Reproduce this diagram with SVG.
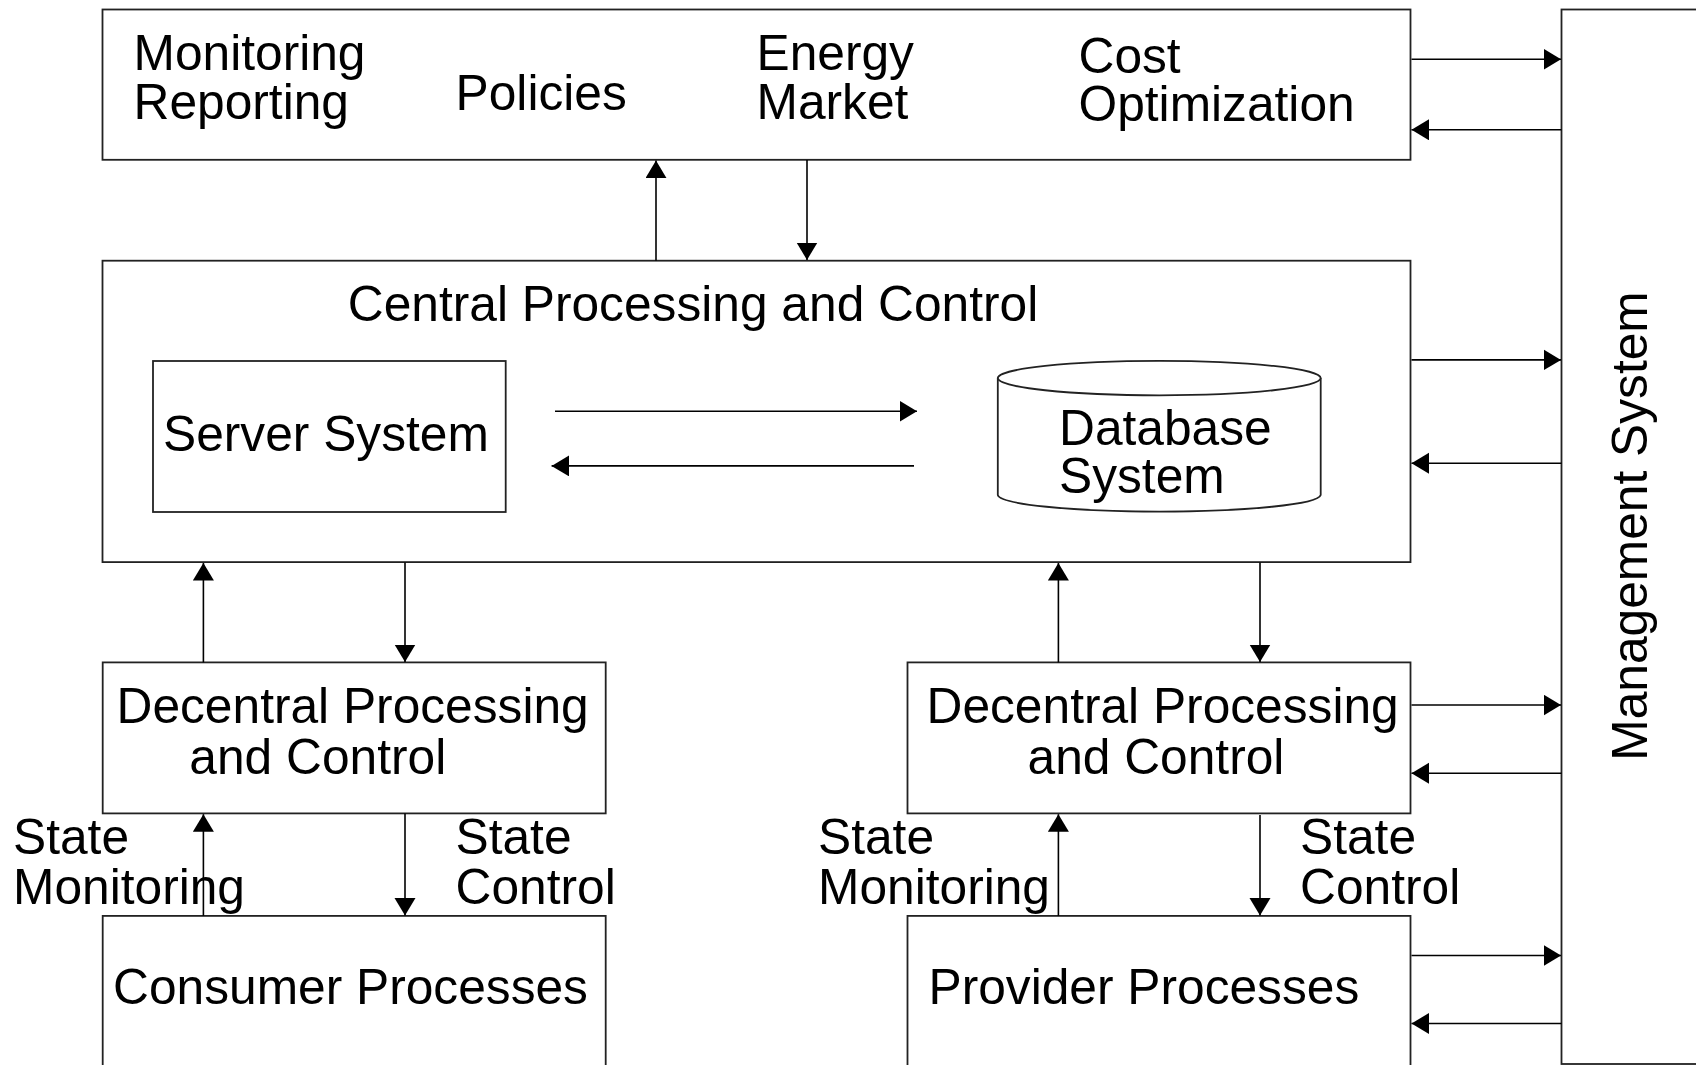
<svg xmlns="http://www.w3.org/2000/svg" width="1696" height="1065" viewBox="0 0 1696 1065">
<style>
.box{fill:#fff;stroke:#222;stroke-width:1.8}
.t{font-family:"Liberation Sans",Arial,sans-serif;font-size:49.7px;fill:#000}
.c{stroke:#000;stroke-width:1.6;fill:none;marker-end:url(#ah)}
</style>
<defs>
<marker id="ah" markerUnits="userSpaceOnUse" markerWidth="18" markerHeight="22" refX="17.5" refY="10.5" orient="auto">
<path d="M0,0 L17.5,10.5 L0,21 z" fill="#000"/>
</marker>
</defs>
<rect width="1696" height="1065" fill="#fff"/>
<g id="management">
<rect class="box" x="1561.5" y="9.5" width="200" height="1054.5"/>
<text class="t" transform="translate(1647,526) rotate(-90)" text-anchor="middle">Management System</text>
</g>
<g id="top">
<rect class="box" x="102.5" y="9.5" width="1308" height="150.3"/>
<text class="t" x="133.5" y="69.9">Monitoring</text>
<text class="t" x="133.5" y="118.8">Reporting</text>
<text class="t" x="455.6" y="109.5">Policies</text>
<text class="t" x="756.5" y="69.9">Energy</text>
<text class="t" x="756.5" y="118.8">Market</text>
<text class="t" x="1078.5" y="73.3">Cost</text>
<text class="t" x="1078.5" y="120.5">Optimization</text>
</g>
<g id="central">
<rect class="box" x="102.5" y="260.7" width="1308" height="301.4"/>
<text class="t" x="347.8" y="321">Central Processing and Control</text>
</g>
<g id="server">
<rect class="box" x="153" y="361" width="352.7" height="151"/>
<text class="t" x="163" y="451">Server System</text>
</g>
<g id="database">
<path class="box" d="M997.8,378.1 L997.8,495 A161.5,17 0 0 0 1320.7,495 L1320.7,378.1" stroke-width="1.3"/>
<ellipse class="box" cx="1159.25" cy="378.1" rx="161.45" ry="17.2" stroke-width="1.3"/>
<text class="t" x="1059" y="445.2">Database</text>
<text class="t" x="1059" y="493">System</text>
</g>
<g id="decentral-left">
<rect class="box" x="102.7" y="662.4" width="503" height="151"/>
<text class="t" x="116.5" y="722.8">Decentral Processing</text>
<text class="t" x="189.3" y="774">and Control</text>
</g>
<g id="decentral-right">
<rect class="box" x="907.5" y="662.4" width="503" height="151"/>
<text class="t" x="926.5" y="722.8">Decentral Processing</text>
<text class="t" x="1027.5" y="774">and Control</text>
</g>
<g id="consumer">
<rect class="box" x="102.7" y="915.9" width="503" height="200"/>
<text class="t" x="113" y="1004.2">Consumer Processes</text>
</g>
<g id="provider">
<rect class="box" x="907.5" y="915.9" width="503" height="200"/>
<text class="t" x="928.5" y="1004.2">Provider Processes</text>
</g>
<g id="labels">
<text class="t" x="13" y="853.5">State</text>
<text class="t" x="13" y="903.5">Monitoring</text>
<text class="t" x="455.5" y="853.5">State</text>
<text class="t" x="455.5" y="903.5">Control</text>
<text class="t" x="818" y="853.5">State</text>
<text class="t" x="818" y="903.5">Monitoring</text>
<text class="t" x="1300" y="853.5">State</text>
<text class="t" x="1300" y="903.5">Control</text>
</g>
<g id="connectors">
<line class="c" x1="656" y1="260.7" x2="656" y2="160.6"/>
<line class="c" x1="807" y1="160" x2="807" y2="260"/>
<line class="c" x1="555" y1="411.2" x2="917" y2="411.2"/>
<line class="c" x1="914" y1="465.9" x2="551.6" y2="465.9"/>
<line class="c" x1="203.4" y1="662.4" x2="203.4" y2="563"/>
<line class="c" x1="405" y1="562.5" x2="405" y2="662"/>
<line class="c" x1="203.4" y1="915.9" x2="203.4" y2="814.2"/>
<line class="c" x1="405" y1="813.5" x2="405" y2="915.5"/>
<line class="c" x1="1058.4" y1="662.4" x2="1058.4" y2="563"/>
<line class="c" x1="1260" y1="562.5" x2="1260" y2="662"/>
<line class="c" x1="1058.4" y1="915.9" x2="1058.4" y2="814.2"/>
<line class="c" x1="1260" y1="815" x2="1260" y2="915.5"/>
<line class="c" x1="1411.5" y1="59.2" x2="1561" y2="59.2"/>
<line class="c" x1="1561.5" y1="129.8" x2="1411.5" y2="129.8"/>
<line class="c" x1="1411.5" y1="359.9" x2="1561" y2="359.9"/>
<line class="c" x1="1561.5" y1="463.2" x2="1411.5" y2="463.2"/>
<line class="c" x1="1411.5" y1="705" x2="1561" y2="705"/>
<line class="c" x1="1561.5" y1="773.3" x2="1411.5" y2="773.3"/>
<line class="c" x1="1411.5" y1="955.5" x2="1561" y2="955.5"/>
<line class="c" x1="1561.5" y1="1023.5" x2="1411.5" y2="1023.5"/>
</g>
</svg>
